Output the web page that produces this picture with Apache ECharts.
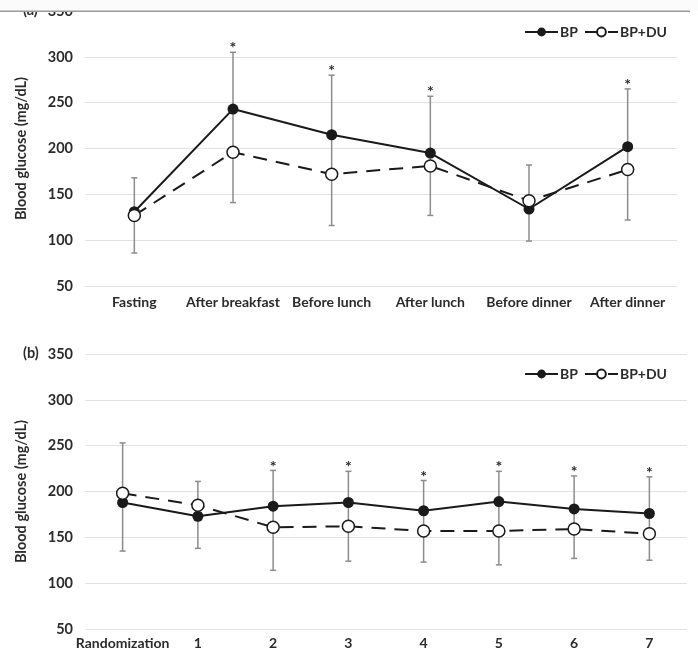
<!DOCTYPE html>
<html>
<head>
<meta charset="utf-8">
<script src="https://cdn.jsdelivr.net/npm/echarts@6/dist/echarts.min.js"></script>
<style>
  html, body { margin: 0; padding: 0; background: #fff; }
  #chart { width: 698px; height: 652px; }
</style>
</head>
<body>
<div id="chart"></div>
<script>
// panel (a): time of day
const mealTimes = ['Fasting', 'After breakfast', 'Before lunch', 'After lunch', 'Before dinner', 'After dinner'];
const bpMeal = [131, 243, 215, 195, 134, 202];
const bpDuMeal = [127, 196, 172, 181, 143, 177];
const mealErrLow = [86, 141, 116, 127, 99, 122];
const mealErrHigh = [168, 305, 280, 257, 182, 265];
const mealSig = [0, 1, 1, 1, 0, 1];

// panel (b): visits
const visits = ['Randomization', '1', '2', '3', '4', '5', '6', '7'];
const bpVisit = [188, 173, 184, 188, 179, 189, 181, 176];
const bpDuVisit = [198, 185, 161, 162, 157, 157, 159, 154];
const visitErrLow = [135, 138, 114, 124, 123, 120, 127, 125];
const visitErrHigh = [253, 211, 223, 222, 212, 222, 217, 216];
const visitSig = [0, 0, 1, 1, 1, 1, 1, 1];

const yTicks = [50, 350, 50]; // min, max, step

const FONT = 'Lato';
const TXT = '#2b2b2b';

function errorBars(low, high, gi) {
  return {
    type: 'custom',
    xAxisIndex: gi, yAxisIndex: gi,
    z: 1,
    silent: true,
    data: low.map((v, i) => [i, v, high[i]]),
    encode: {x: 0, y: [1, 2]},
    renderItem: function (params, api) {
      const lo = api.coord([api.value(0), api.value(1)]);
      const hi = api.coord([api.value(0), api.value(2)]);
      const st = {stroke: '#8c8c8c', lineWidth: 1.5};
      return {
        type: 'group',
        children: [
          {type: 'line', shape: {x1: lo[0], y1: lo[1], x2: hi[0], y2: hi[1]}, style: st},
          {type: 'line', shape: {x1: lo[0] - 3, y1: lo[1], x2: lo[0] + 3, y2: lo[1]}, style: st},
          {type: 'line', shape: {x1: hi[0] - 3, y1: hi[1], x2: hi[0] + 3, y2: hi[1]}, style: st}
        ]
      };
    }
  };
}

function stars(high, sig, gi) {
  return {
    type: 'custom',
    xAxisIndex: gi, yAxisIndex: gi,
    z: 1,
    silent: true,
    data: high.map((v, i) => [i, v]).filter((d, i) => sig[i]),
    encode: {x: 0, y: 1},
    renderItem: function (params, api) {
      const p = api.coord([api.value(0), api.value(1)]);
      return {
        type: 'text',
        style: {
          text: '*', x: p[0], y: p[1] - 4,
          fontSize: 16, fontWeight: 'bold', fontFamily: FONT, fill: TXT,
          align: 'center', verticalAlign: 'middle'
        }
      };
    }
  };
}

function lineSeries(name, data, gi, filled) {
  return {
    name: name,
    type: 'line',
    xAxisIndex: gi, yAxisIndex: gi,
    data: data,
    z: 3,
    symbol: 'circle',
    symbolSize: filled ? 11 : 12,
    itemStyle: filled
      ? {color: '#1a1a1a', borderWidth: 0}
      : {color: '#fff', borderColor: '#1a1a1a', borderWidth: 1.5},
    lineStyle: {color: '#1a1a1a', width: 2, type: filled ? 'solid' : [14, 9]}
  };
}

function yAxis(gi) {
  return {
    type: 'value',
    gridIndex: gi,
    min: yTicks[0], max: yTicks[1], interval: yTicks[2],
    name: 'Blood glucose (mg/dL)',
    nameLocation: 'middle',
    nameGap: 56,
    nameTextStyle: {fontFamily: FONT, fontSize: 14.5, fontWeight: 'bold', color: TXT},
    axisLine: {show: false},
    axisTick: {show: false},
    axisLabel: {fontFamily: FONT, fontSize: 14.5, fontWeight: 'bold', color: TXT, margin: 12},
    splitLine: {lineStyle: {color: '#e2e2e2', width: 1}}
  };
}

function legend(top) {
  return {
    right: 26, top: top,
    itemWidth: 33, itemHeight: 11, itemGap: 6,
    textStyle: {fontFamily: FONT, fontSize: 14, fontWeight: 'bold', color: TXT, padding: [0, 0, 0, -3]},
    data: ['BP', 'BP+DU']
  };
}

const option = {
  backgroundColor: '#fff',
  animation: false,
  legend: [legend(20), legend(362)],
  grid: [
    {left: 85, right: 21, top: 11, height: 275},
    {left: 85, right: 11, top: 354, height: 275}
  ],
  xAxis: [
    {
      type: 'category', gridIndex: 0, data: mealTimes,
      axisLine: {show: false}, axisTick: {show: false},
      axisLabel: {fontFamily: FONT, fontSize: 14, fontWeight: 'bold', color: TXT, margin: 9, interval: 0}
    },
    {
      type: 'category', gridIndex: 1, data: visits,
      axisLine: {show: false}, axisTick: {show: false},
      axisLabel: {fontFamily: FONT, fontSize: 14, fontWeight: 'bold', color: TXT, margin: 7, interval: 0}
    }
  ],
  yAxis: [yAxis(0), yAxis(1)],
  series: [
    errorBars(mealErrLow, mealErrHigh, 0),
    stars(mealErrHigh, mealSig, 0),
    lineSeries('BP', bpMeal, 0, true),
    lineSeries('BP+DU', bpDuMeal, 0, false),
    errorBars(visitErrLow, visitErrHigh, 1),
    stars(visitErrHigh, visitSig, 1),
    lineSeries('BP', bpVisit, 1, true),
    lineSeries('BP+DU', bpDuVisit, 1, false)
  ],
  graphic: [
    {type: 'text', left: 23, top: 3, z: 50, style: {text: '(a)', fontFamily: FONT, fontSize: 14.5, fontWeight: 'bold', fill: TXT}},
    {type: 'text', left: 23, top: 346, z: 50, style: {text: '(b)', fontFamily: FONT, fontSize: 14.5, fontWeight: 'bold', fill: TXT}},
    // the scan is cut at the top
    {type: 'rect', left: 0, top: 0, z: 100, shape: {width: 698, height: 11}, style: {fill: '#fbfbfb'}},
    {type: 'rect', left: 0, top: 10.5, z: 101, shape: {width: 690, height: 1.5}, style: {fill: '#9a9a9a'}}
  ]
};

const myChart = echarts.init(document.getElementById('chart'));
myChart.setOption(option);
</script>
</body>
</html>
